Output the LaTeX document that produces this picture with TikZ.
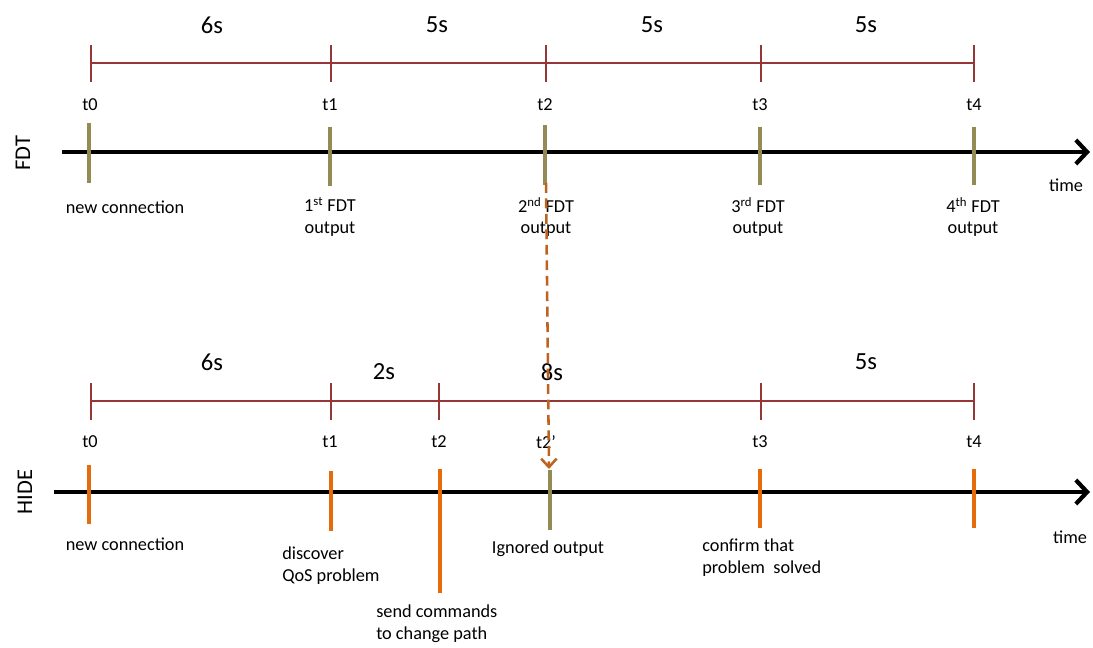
\documentclass[tikz,border=0pt]{standalone}
\usepackage{fontspec}
\setmainfont{Carlito}
\usetikzlibrary{arrows.meta}
\definecolor{spanred}{RGB}{149,55,53}
\definecolor{fdtolive}{RGB}{148,138,84}
\definecolor{hideorange}{RGB}{228,108,10}
\definecolor{dashbrown}{RGB}{190,98,32}

\begin{document}
\begin{tikzpicture}[x=0.025cm, y=-0.025cm,
    span/.style={draw=spanred, line width=2pt},
    axis/.style={line width=3pt, -{Straight Barb[length=8pt,width=17pt]}},
    fdttick/.style={draw=fdtolive, line width=2.8pt},
    hidetick/.style={draw=hideorange, line width=2.8pt},
    dashedarrow/.style={draw=dashbrown, line width=1.8pt, dash pattern=on 7pt off 4pt,
                        -{Straight Barb[length=6pt,width=11pt]}},
    dur/.style={font=\fontsize{17.5}{20}\selectfont},
    tlabel/.style={font=\fontsize{13}{15}\selectfont, inner sep=0pt},
    note/.style={font=\fontsize{13}{15.5}\selectfont, align=center, inner sep=0pt},
    rowname/.style={font=\fontsize{16}{19}\selectfont, rotate=90}
  ]
    \useasboundingbox (0,0) rectangle (1093,648);

    % FDT: durations
    \draw[span] (91,63) -- (974,63);
    \draw[span] (91,45) -- (91,82);
    \draw[span] (331,45) -- (331,82);
    \draw[span] (546,45) -- (546,82);
    \draw[span] (761,45) -- (761,82);
    \draw[span] (974,45) -- (974,82);
    \node[dur] (fd1) at (212,25) {6s};
    \node[dur] (fd2) at (437,25) {5s};
    \node[dur] (fd3) at (652,25) {5s};
    \node[dur] (fd4) at (866,25) {5s};

    % FDT: axis and outputs
    \node[rowname] (fdtname) at (23,153) {FDT};
    \draw[axis] (62,152) -- (1090,152);
    \draw[fdttick] (89,123) -- (89,183);
    \draw[fdttick] (330,127) -- (330,186);
    \draw[fdttick] (545,125) -- (545,185);
    \draw[fdttick] (760,127) -- (760,185);
    \draw[fdttick] (974,127) -- (974,185);
    \node[tlabel] (ft0) at (90,105) {t0};
    \node[tlabel] (ft1) at (330,105) {t1};
    \node[tlabel] (ft2) at (545,105) {t2};
    \node[tlabel] (ft3) at (760,105) {t3};
    \node[tlabel] (ft4) at (974,105) {t4};
    \node[tlabel] (ftime) at (1066,185) {time};
    \node[note] (fn0) at (125,207) {new connection};
    \node[note] (fn1) at (330,217) {1\textsuperscript{st} FDT\\output};
    \node[note] (fn2) at (546,217) {2\textsuperscript{nd} FDT\\output};
    \node[note] (fn3) at (758,217) {3\textsuperscript{rd} FDT\\output};
    \node[note] (fn4) at (973,217) {4\textsuperscript{th} FDT\\output};

    % HIDE: durations
    \draw[span] (91,401) -- (974,401);
    \draw[span] (91,383) -- (91,420);
    \draw[span] (331,383) -- (331,420);
    \draw[span] (439,383) -- (439,420);
    \draw[span] (761,383) -- (761,420);
    \draw[span] (974,383) -- (974,420);
    \node[dur] (hd1) at (212,362) {6s};
    \node[dur] (hd2) at (384,372) {2s};
    \node[dur] (hd3) at (552,372) {8s};
    \node[dur] (hd4) at (866,362) {5s};

    % HIDE: axis and actions
    \node[rowname] (hidename) at (25,492) {HIDE};
    \draw[axis] (54,492) -- (1090,492);
    \draw[hidetick] (89,465) -- (89,524);
    \draw[hidetick] (331,471) -- (331,531);
    \draw[hidetick] (440,469) -- (440,593);
    \draw[fdttick] (550,470) -- (550,530);
    \draw[hidetick] (760,469) -- (760,528);
    \draw[hidetick] (974,469) -- (974,528);
    \node[tlabel] (ht0) at (90,442) {t0};
    \node[tlabel] (ht1) at (330,442) {t1};
    \node[tlabel] (ht2) at (439,442) {t2};
    \node[tlabel] (ht2b) at (546,442) {t2’};
    \node[tlabel] (ht3) at (760,442) {t3};
    \node[tlabel] (ht4) at (974,442) {t4};
    \node[tlabel] (htime) at (1070,537) {time};
    \node[note] (hn0) at (125,544) {new connection};
    \node[note, align=left, anchor=west] (hn1) at (282,566) {discover\\QoS problem};
    \node[note, align=left, anchor=west] (hn2) at (376,624) {send commands\\to change path};
    \node[note] (hn3) at (548,549) {Ignored output};
    \node[note, align=left, anchor=west] (hn4) at (702,558) {confirm that\\problem\ \ solved};

    % FDT output carried over to HIDE
    \coordinate (fdtout) at (546,183);
    \coordinate (hidein) at (549,469);
    \draw[dashedarrow] (fdtout) -- (hidein);
  \end{tikzpicture}
\end{document}
